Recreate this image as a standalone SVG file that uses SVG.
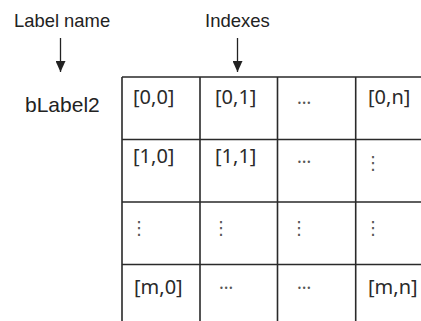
<svg xmlns="http://www.w3.org/2000/svg" width="421" height="321" viewBox="0 0 421 321">
<defs>
<style>
.lbl{font-family:"Liberation Sans",Arial,sans-serif;fill:#222}
.cell{font-family:"Noto Sans","Open Sans",sans-serif;font-size:20px;fill:#2a2a2a}
.dots{font-family:"Noto Sans","DejaVu Sans",sans-serif;font-size:18px;fill:#555}
.grid{stroke:#2a2a2a;stroke-width:1.6;fill:none}
.arr{stroke:#222;stroke-width:1.3;fill:none;marker-end:url(#ah)}
</style>
<marker id="ah" markerWidth="12" markerHeight="10" refX="11" refY="5" orient="auto" markerUnits="userSpaceOnUse" viewBox="0 0 12 10">
<path d="M0,0 L11,5 L0,10 Z" fill="#222"/>
</marker>
</defs>
<rect width="421" height="321" fill="#fff"/>
<g id="label-name"><text class="lbl" x="14" y="27" font-size="18.4">Label name</text></g>
<g id="indexes"><text class="lbl" x="205" y="27" font-size="18.5">Indexes</text></g>
<g id="blabel2"><text class="lbl" x="25" y="112" font-size="21">bLabel2</text></g>
<g id="connectors">
<line class="arr" x1="60.5" y1="38" x2="60.5" y2="72"/>
<line class="arr" x1="237.5" y1="38" x2="237.5" y2="72"/>
</g>
<g id="table">
<path class="grid" d="M122,77 H421 M122,139.5 H421 M122,202 H421 M122,264.5 H421 M122,77 V321 M200,77 V321 M277.5,77 V321 M355.7,77 V321"/>
<text class="cell" x="133" y="104">[0,0]</text>
<text class="cell" x="215" y="104">[0,1]</text>
<text class="dots" x="304" y="104" text-anchor="middle">…</text>
<text class="cell" x="368" y="104">[0,n]</text>
<text class="cell" x="133" y="163">[1,0]</text>
<text class="cell" x="215" y="163">[1,1]</text>
<text class="dots" x="304" y="163" text-anchor="middle">…</text>
<text class="dots" x="373" y="169" text-anchor="middle">⋮</text>
<text class="dots" x="139" y="234" text-anchor="middle">⋮</text>
<text class="dots" x="221" y="234" text-anchor="middle">⋮</text>
<text class="dots" x="299" y="234" text-anchor="middle">⋮</text>
<text class="dots" x="373" y="234" text-anchor="middle">⋮</text>
<text class="cell" x="134" y="294">[m,0]</text>
<text class="dots" x="226" y="289" text-anchor="middle">…</text>
<text class="dots" x="304" y="289" text-anchor="middle">…</text>
<text class="cell" x="368" y="294">[m,n]</text>
</g>
</svg>
